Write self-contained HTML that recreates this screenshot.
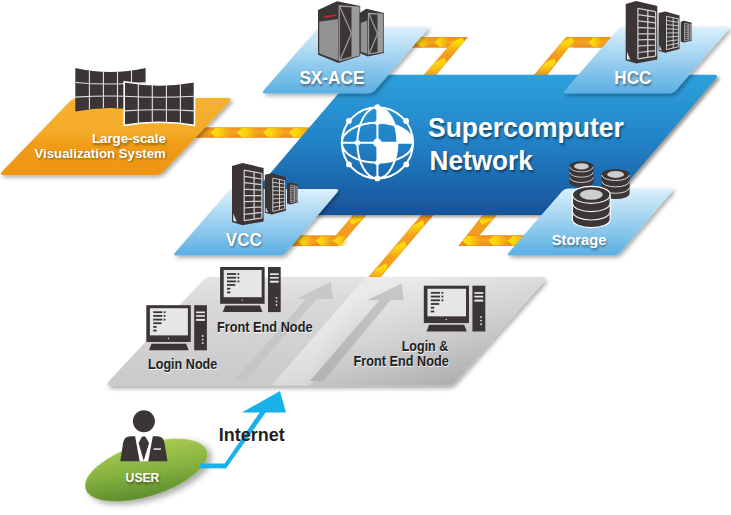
<!DOCTYPE html>
<html><head><meta charset="utf-8">
<style>
html,body{margin:0;padding:0;background:#fff;}
body{width:731px;height:515px;overflow:hidden;}
svg{display:block;}
text{font-family:"Liberation Sans",sans-serif;font-weight:bold;}
</style></head>
<body>
<svg width="731" height="515" viewBox="0 0 731 515">
<defs>
  <linearGradient id="gBlue" x1="0" y1="0" x2="0" y2="1">
    <stop offset="0" stop-color="#2da1dc"/>
    <stop offset="0.45" stop-color="#2384c8"/>
    <stop offset="1" stop-color="#18539a"/>
  </linearGradient>
  <linearGradient id="gLight" x1="0" y1="0" x2="0" y2="1">
    <stop offset="0" stop-color="#dcf0fb"/>
    <stop offset="1" stop-color="#5aafe3"/>
  </linearGradient>
  <linearGradient id="gOrange" x1="0" y1="0" x2="0" y2="1">
    <stop offset="0" stop-color="#f6b12f"/>
    <stop offset="0.45" stop-color="#f5ab28"/>
    <stop offset="0.6" stop-color="#f09c16"/>
    <stop offset="1" stop-color="#ed9512"/>
  </linearGradient>
  <linearGradient id="gGrayL" x1="0" y1="0" x2="0" y2="1">
    <stop offset="0" stop-color="#e4e4e4"/>
    <stop offset="0.25" stop-color="#d8d8d8"/>
    <stop offset="1" stop-color="#cacaca"/>
  </linearGradient>
  <linearGradient id="gGrayR" gradientUnits="userSpaceOnUse" x1="420" y1="277" x2="450" y2="388">
    <stop offset="0" stop-color="#eaeaea"/>
    <stop offset="0.5" stop-color="#d0d0d0"/>
    <stop offset="1" stop-color="#adadad"/>
  </linearGradient>
  <linearGradient id="gHi" gradientUnits="userSpaceOnUse" x1="320" y1="330" x2="352" y2="338">
    <stop offset="0" stop-color="#fff" stop-opacity="0.3"/>
    <stop offset="1" stop-color="#fff" stop-opacity="0"/>
  </linearGradient>
  <linearGradient id="gArrow2" gradientUnits="userSpaceOnUse" x1="400" y1="285" x2="315" y2="380">
    <stop offset="0" stop-color="#c8c8c8"/>
    <stop offset="1" stop-color="#b2b2b2"/>
  </linearGradient>
  <linearGradient id="gGreen" x1="0.7" y1="0" x2="0.3" y2="1">
    <stop offset="0" stop-color="#aacb52"/>
    <stop offset="0.5" stop-color="#86b240"/>
    <stop offset="1" stop-color="#5a8b2c"/>
  </linearGradient>
  <filter id="eshadow" x="-20%" y="-30%" width="140%" height="170%">
    <feDropShadow dx="3" dy="4" stdDeviation="3" flood-color="#000" flood-opacity="0.35"/>
  </filter>
  <linearGradient id="gBand" x1="0" y1="0" x2="0" y2="1">
    <stop offset="0" stop-color="#ef8f1d"/>
    <stop offset="0.5" stop-color="#f4a51f"/>
    <stop offset="1" stop-color="#ec891d"/>
  </linearGradient>
  <linearGradient id="gBand2" x1="0" y1="0" x2="0" y2="1">
    <stop offset="0" stop-color="#f4a51f"/>
    <stop offset="0.7" stop-color="#f29a1e"/>
    <stop offset="1" stop-color="#ec891d"/>
  </linearGradient>
  <linearGradient id="gBandV" x1="0" y1="0" x2="1" y2="0">
    <stop offset="0" stop-color="#ef8f1d"/>
    <stop offset="0.5" stop-color="#f4a51f"/>
    <stop offset="1" stop-color="#ec891d"/>
  </linearGradient>
  
  <linearGradient id="cL" x1="0" y1="0" x2="1" y2="0"><stop offset="0" stop-color="#fde20a"/><stop offset="0.4" stop-color="#fad20f"/><stop offset="1" stop-color="#f8c812" stop-opacity="0"/></linearGradient>
  <linearGradient id="cR" x1="1" y1="0" x2="0" y2="0"><stop offset="0" stop-color="#fde20a"/><stop offset="0.4" stop-color="#fad20f"/><stop offset="1" stop-color="#f8c812" stop-opacity="0"/></linearGradient>
  <linearGradient id="cU" x1="0" y1="0" x2="0" y2="1"><stop offset="0" stop-color="#fde20a"/><stop offset="0.4" stop-color="#fad20f"/><stop offset="1" stop-color="#f8c812" stop-opacity="0"/></linearGradient>
  <linearGradient id="cD" x1="0" y1="1" x2="0" y2="0"><stop offset="0" stop-color="#fde20a"/><stop offset="0.4" stop-color="#fad20f"/><stop offset="1" stop-color="#f8c812" stop-opacity="0"/></linearGradient>

  <filter id="pshadow" x="-10%" y="-10%" width="130%" height="140%">
    <feDropShadow dx="1.5" dy="3" stdDeviation="2.2" flood-color="#000" flood-opacity="0.32"/>
  </filter>
  <filter id="bshadow" x="-10%" y="-10%" width="130%" height="140%">
    <feDropShadow dx="2.5" dy="2" stdDeviation="1.8" flood-color="#2a1a10" flood-opacity="0.45"/>
  </filter>
  <filter id="shadow" x="-10%" y="-10%" width="130%" height="140%">
    <feDropShadow dx="2" dy="2" stdDeviation="2" flood-color="#000" flood-opacity="0.35"/>
  </filter>
  <filter id="blur1" x="-10%" y="-30%" width="120%" height="160%"><feGaussianBlur stdDeviation="0.9"/></filter>
  <filter id="blur07" x="-10%" y="-30%" width="120%" height="160%"><feGaussianBlur stdDeviation="0.7"/></filter>
  <g id="pc">
<rect x="0" y="0" width="44.5" height="36.8" fill="#3b3536"/>
<rect x="3.6" y="3" width="38" height="27.2" fill="#e6e6e6"/>
<g fill="#3b3536">
<rect x="6.9" y="6.1" width="9.1" height="1.8"/><rect x="17.4" y="6.1" width="1.8" height="1.8"/>
<rect x="6.9" y="9.8" width="9.1" height="1.8"/><rect x="17.4" y="9.8" width="1.8" height="1.8"/>
<rect x="6.9" y="13.5" width="9.1" height="1.8"/><rect x="17.4" y="13.5" width="1.8" height="1.8"/>
<rect x="6.9" y="17.1" width="8.3" height="1.8"/>
<rect x="6.9" y="20.8" width="3.4" height="1.8"/>
<rect x="6.9" y="24.5" width="3.4" height="1.8"/>
<polygon points="5.2,38.5 39.8,38.5 42.4,45.1 2.7,45.1"/>
<rect x="47.9" y="0" width="12.7" height="45.1"/>
</g>
<circle cx="22.1" cy="33.2" r="0.6" fill="#fff"/>
<g fill="#e6e6e6">
<rect x="49.8" y="6.3" width="8.8" height="1.7"/>
<rect x="49.8" y="9.9" width="8.8" height="1.7"/>
<rect x="49.8" y="13.7" width="8.8" height="2"/>
<circle cx="56.4" cy="30.8" r="0.9"/><circle cx="56.4" cy="34.4" r="0.9"/><circle cx="56.4" cy="38" r="0.9"/>
</g>
</g>
  <g id="racks">
  <polygon points="232,165.9 242.5,162.9 263.6,167.9 263.6,221.4 242.5,225.3 232,222" fill="#3b3536"/>
<path d="M244.2 170.1L244.2 220.7M254.1 172L254.1 219.1M261.9 173.5L261.9 217.9M244.2 170.1L261.9 173.5M244.2 176.4L261.9 179M244.2 182.7L261.9 184.6M244.2 189.1L261.9 190.1M244.2 195.4L261.9 195.7M244.2 201.7L261.9 201.2M244.2 208L261.9 206.8M244.2 214.3L261.9 212.4M244.2 220.7L261.9 217.9" stroke="#d0d0d0" stroke-width="1.25" fill="none"/>
<polygon points="233.3,213.6 233.3,221 236.7,221.5" fill="#e8e8e8"/>
<polygon points="264.9,174.8 271.7,173.3 285.8,177.2 285.8,210.7 271.7,214.6 264.9,212.7" fill="#3b3536"/>
<path d="M272.8 178.1L272.8 211.4M279.5 179.5L279.5 209.9M284.7 180.6L284.7 208.6M272.8 178.1L284.7 180.6M272.8 182.3L284.7 184.1M272.8 186.4L284.7 187.6M272.8 190.6L284.7 191.1M272.8 194.8L284.7 194.6M272.8 198.9L284.7 198.1M272.8 203.1L284.7 201.6M272.8 207.3L284.7 205.1M272.8 211.4L284.7 208.6" stroke="#d0d0d0" stroke-width="0.95" fill="none"/>
<polygon points="265.7,207 265.7,211.7 268,212.2" fill="#e8e8e8"/>
<polygon points="287,183.5 290.2,182.6 297.9,184.5 297.9,202.5 290.2,204.4 287,203.4" fill="#3b3536"/>
<path d="M290.8 185.1L290.8 202.7M294.4 185.8L294.4 202M297.3 186.4L297.3 201.4M290.8 185.1L297.3 186.4M290.8 187.3L297.3 188.2M290.8 189.5L297.3 190.1M290.8 191.7L297.3 192M290.8 193.9L297.3 193.9M290.8 196.1L297.3 195.7M290.8 198.3L297.3 197.6M290.8 200.5L297.3 199.5M290.8 202.7L297.3 201.4" stroke="#d0d0d0" stroke-width="0.6" fill="none"/>
  </g>
</defs>

<!-- ===== orange connectors ===== -->
<rect x="190" y="127.3" width="125" height="10.5" fill="url(#gBand)"/>
<polygon points="210.5,132.6 215.5,127.9 231.5,127.9 231.5,137.2 215.5,137.2" fill="url(#cL)"/>
<polygon points="236.9,132.6 241.9,127.9 257.9,127.9 257.9,137.2 241.9,137.2" fill="url(#cL)"/>
<polygon points="263.2,132.6 268.2,127.9 284.2,127.9 284.2,137.2 268.2,137.2" fill="url(#cL)"/>
<polygon points="288.8,132.6 293.8,127.9 309.8,127.9 309.8,137.2 293.8,137.2" fill="url(#cL)"/>
<polygon points="400,37 468,37 435.5,76 422.7,76 447.5,47.5 400,47.5" fill="url(#gBandV)"/>
<rect x="400" y="37" width="54" height="10.5" fill="url(#gBand)"/>
<polygon points="416.4,42.2 421.4,37.6 429.4,37.6 429.4,46.9 421.4,46.9" fill="url(#cL)"/>
<polygon points="435,42.2 440,37.6 448,37.6 448,46.9 440,46.9" fill="url(#cL)"/>
<polygon points="462.2,37.6 464.2,41.6 452.9,54.6 442,54.6 453.3,41.6" fill="url(#cU)"/>
<polygon points="444.3,58.2 446.2,62.2 434.9,75.2 424.1,75.2 435.4,62.2" fill="url(#cU)"/>
<polygon points="566,37 625,37 625,47.5 569,47.5 546.5,76 533,76" fill="url(#gBandV)"/>
<rect x="574" y="37" width="51" height="10.5" fill="url(#gBand)"/>
<polygon points="588.5,42.2 593.5,37.6 602.5,37.6 602.5,46.9 593.5,46.9" fill="url(#cL)"/>
<polygon points="607,42.2 612,37.6 621,37.6 621,46.9 612,46.9" fill="url(#cL)"/>
<polygon points="571.8,37.6 573.9,41.6 562.9,54.6 551.9,54.6 562.9,41.6" fill="url(#cU)"/>
<polygon points="554,58.6 556.1,62.6 545.1,75.6 534,75.6 545.1,62.6" fill="url(#cU)"/>
<polygon points="285,235.6 335.6,235.6 356.5,211 369.8,211 340,246.1 285,246.1" fill="url(#gBand2)"/>
<rect x="285" y="235.6" width="50.6" height="10.5" fill="url(#gBand)"/>
<polygon points="298,240.8 303,236.2 313,236.2 313,245.5 303,245.5" fill="url(#cL)"/>
<polygon points="316,240.8 321,236.2 331,236.2 331,245.5 321,245.5" fill="url(#cL)"/>
<polygon points="333.5,240.8 338.5,236.2 348.5,236.2 348.5,245.5 338.5,245.5" fill="url(#cL)"/>
<polygon points="351.6,224.5 360.6,220.5 366.6,213.5 355.4,213.5 349.4,220.5" fill="url(#cD)"/>
<polygon points="458.2,246 485.8,211 500.3,211 479.5,235.4 530,235.4 530,246" fill="url(#gBand2)"/>
<rect x="472" y="235.4" width="58" height="10.6" fill="url(#gBand)"/>
<polygon points="462.5,240.7 467.5,236 481.5,236 481.5,245.4 467.5,245.4" fill="url(#cL)"/>
<polygon points="488.3,240.7 493.3,236 507.3,236 507.3,245.4 493.3,245.4" fill="url(#cL)"/>
<polygon points="508,240.7 513,236 527,236 527,245.4 513,245.4" fill="url(#cL)"/>
<polygon points="481.8,224.5 490.9,220.5 496.8,213.5 485.2,213.5 479.4,220.5" fill="url(#cD)"/>
<polygon points="424.6,211 437,211 374,285 361.6,285" fill="url(#gBandV)"/>
<polygon points="423,220.2 424,225.2 413.8,237.2 403.2,237.2 413.4,225.2" fill="url(#cU)"/>
<polygon points="405,241.3 406,246.3 395.8,258.3 385.3,258.3 395.5,246.3" fill="url(#cU)"/>
<polygon points="386.4,263.2 387.4,268.2 377.2,280.2 366.6,280.2 376.9,268.2" fill="url(#cU)"/>

<path d="M350.7 79Q354.3 74.8 359.8 74.8L713.8 74.8Q719.3 74.8 715.7 79L603.6 210.7Q600 214.9 594.5 214.9L240.2 214.9Q234.7 214.9 238.3 210.7Z" fill="url(#gBlue)" filter="url(#bshadow)"/>
<path d="M69.2 102Q73 98 78.5 98L227.5 98Q233 98 229.2 102L163.8 171.3Q160 175.3 154.5 175.3L4 175.3Q-1.5 175.3 2.3 171.3Z" fill="url(#gOrange)" filter="url(#shadow)"/>
<path d="M316 30.4Q319 27 323.5 27L425 27Q429.5 27 426.6 30.4L375.4 90Q372.5 93.4 368 93.4L265.5 93.4Q261 93.4 264 90Z" fill="url(#gLight)" filter="url(#shadow)"/>
<path d="M617 30.4Q620 27 624.5 27L726 27Q730.5 27 727.6 30.4L676.4 90Q673.5 93.4 669 93.4L566.5 93.4Q562 93.4 565 90Z" fill="url(#gLight)" filter="url(#shadow)"/>
<path d="M227.5 192.4Q230.5 189 235 189L335.5 189Q340 189 337.1 192.4L286.4 252.2Q283.5 255.6 279 255.6L176.8 255.6Q172.3 255.6 175.3 252.2Z" fill="url(#gLight)" filter="url(#shadow)"/>
<path d="M561.5 191.9Q564.5 188.5 569 188.5L670 188.5Q674.5 188.5 671.6 191.9L620.4 252.2Q617.5 255.6 613 255.6L510.5 255.6Q506 255.6 509 252.2Z" fill="url(#gLight)" filter="url(#shadow)"/>
<path d="M201.9 281.4Q206 277 212 277L542 277Q548 277 544 281.5L456 381Q452 385.5 446 385.5L111 385.5Q105 385.5 109.1 381.1Z" fill="url(#gGrayL)" filter="url(#pshadow)"/>
<clipPath id="platClip"><path d="M201.9 281.4Q206 277 212 277L542 277Q548 277 544 281.5L456 381Q452 385.5 446 385.5L111 385.5Q105 385.5 109.1 381.1Z"/></clipPath>
<g clip-path="url(#platClip)">
  <polygon points="366,277 560,277 560,390 272,390 272,385" fill="url(#gGrayR)"/>
  <polygon points="366,277 400,277 306,390 272,390 272,385" fill="url(#gHi)"/>
  <polygon points="233.9,380 305.9,299.1 296.5,299.1 330.5,281.7 333.4,299.1 316.6,299.1 246.2,380" fill="#c4c4c4" fill-opacity="0.85"/>
  <polygon points="310,381.1 379.3,300.3 367,300.3 401.7,283.5 403.9,300.3 390.5,300.3 323.5,381.1" fill="url(#gArrow2)"/>
</g>
<!-- globe -->
<g fill="none" stroke="#fff" stroke-width="2">
<circle cx="377.4" cy="142.8" r="35.6"/>
<ellipse cx="377.4" cy="142.8" rx="20" ry="35.6"/>
<ellipse cx="377.4" cy="142.8" rx="35.6" ry="20"/>
<path d="M377.4 107.2V178.4M341.8 142.8H413"/>
</g>
<g fill="#fff">
<path d="M377.4 107.2A20 35.6 0 0 1 394.84 125.36A35.6 20 0 0 0 377.4 122.8Z"/>
<path d="M394.84 125.36A35.6 20 0 0 1 413 142.8H397.4A20 35.6 0 0 0 394.84 125.36Z"/>
<path d="M377.4 142.8H397.4A20 35.6 0 0 1 394.84 160.24A35.6 20 0 0 1 377.4 162.8Z"/>
<circle cx="377.4" cy="107.2" r="2.9"/>
<circle cx="377.4" cy="178.4" r="2.9"/>
<circle cx="377.4" cy="142.8" r="4.3"/>
<circle cx="357.4" cy="142.8" r="2.8"/>
<circle cx="348.9" cy="121" r="2.9"/>
<circle cx="406.1" cy="121" r="2.9"/>
<circle cx="348.9" cy="164.4" r="2.9"/>
<circle cx="406.3" cy="164.4" r="2.9"/>
<circle cx="377.4" cy="122.8" r="2.5"/>
<circle cx="377.4" cy="162.8" r="2.5"/>
</g>

<!-- icons -->
<use href="#racks"/>
<use href="#racks" transform="translate(393.7,-161.8)"/>
<polygon points="318,9.9 337.1,1.3 360.2,5.9 360.2,56.1 338.4,63.1 318,54.7" fill="#3b3536"/>
<polygon points="319.2,21.8 338,19.1 338,60.6 319.2,53.4" fill="#939393"/>
<line x1="325.2" y1="16.9" x2="335.8" y2="15.2" stroke="#d42030" stroke-width="1.6" stroke-linecap="round"/>
<polygon points="339.2,6 359,7.1 359,54.9 339.2,60.6" fill="none" stroke="#9a9a9a" stroke-width="1.3"/>
<polygon points="351.5,6.7 359,7.1 359,54.9 351.5,57.2" fill="#9a9a9a"/>
<polyline points="339.7,6.5 351.5,33.3 340,60.1" fill="none" stroke="#9a9a9a" stroke-width="1.3"/>
<polygon points="359.6,12.9 366.4,8.8 384,12.9 384,53 367.7,56.4 359.6,53" fill="#3b3536"/>
<polygon points="360.8,23.1 367.3,20.4 367.3,53.9 360.8,51.7" fill="#939393"/>
<polygon points="368.5,13.5 382.8,14.1 382.8,51.8 368.5,53.9" fill="none" stroke="#9a9a9a" stroke-width="1.3"/>
<polygon points="377.5,13.9 382.8,14.1 382.8,51.8 377.5,52.6" fill="#9a9a9a"/>
<polyline points="369,14 377.5,33.7 369.3,53.4" fill="none" stroke="#9a9a9a" stroke-width="1.3"/>
<path d="M569.4 166.3L569.4 182.2A12 5 0 0 0 593.4 182.2L593.4 166.3A12 5 0 0 0 569.4 166.3Z" fill="#3b3536"/>
<path d="M569.7 166.9A11.7 5 0 0 0 593.1 166.9" fill="none" stroke="#e6e6e6" stroke-width="0.8"/>
<path d="M569.7 172.2A11.7 5 0 0 0 593.1 172.2" fill="none" stroke="#e6e6e6" stroke-width="0.8"/>
<path d="M569.7 177.5A11.7 5 0 0 0 593.1 177.5" fill="none" stroke="#e6e6e6" stroke-width="0.8"/>
<ellipse cx="581.4" cy="166.3" rx="7.3" ry="3.1" fill="#cdcdcd"/>
<path d="M601.6 174.4L601.6 193.6A14 5.5 0 0 0 629.6 193.6L629.6 174.4A14 5.5 0 0 0 601.6 174.4Z" fill="#3b3536"/>
<path d="M601.9 175A13.7 5.5 0 0 0 629.3 175" fill="none" stroke="#e6e6e6" stroke-width="0.9"/>
<path d="M601.9 181.4A13.7 5.5 0 0 0 629.3 181.4" fill="none" stroke="#e6e6e6" stroke-width="0.9"/>
<path d="M601.9 187.8A13.7 5.5 0 0 0 629.3 187.8" fill="none" stroke="#e6e6e6" stroke-width="0.9"/>
<ellipse cx="615.6" cy="174.4" rx="8.5" ry="3.5" fill="#cdcdcd"/>
<path d="M572.4 194.6L572.4 219.5A18.9 8.2 0 0 0 610.2 219.5L610.2 194.6A18.9 8.2 0 0 0 572.4 194.6Z" fill="#3b3536" stroke="#fff" stroke-width="1.2"/>
<path d="M572.7 195.2A18.6 8.2 0 0 0 609.9 195.2" fill="none" stroke="#e6e6e6" stroke-width="1.2"/>
<path d="M572.7 203.5A18.6 8.2 0 0 0 609.9 203.5" fill="none" stroke="#e6e6e6" stroke-width="1.2"/>
<path d="M572.7 211.8A18.6 8.2 0 0 0 609.9 211.8" fill="none" stroke="#e6e6e6" stroke-width="1.2"/>
<ellipse cx="591.3" cy="194.6" rx="11.5" ry="5.2" fill="#cdcdcd"/>
<path d="M75.3 68Q110.4 76.2 145.6 68L145.6 111.6Q110.4 104.4 75.3 111.6Z" fill="#3b3536"/>
<path d="M89.4 70.6L89.4 109.3M103.4 71.9L103.4 108.1M117.5 71.9L117.5 108.1M131.5 70.6L131.5 109.3M75.3 82.5Q110.4 85.6 145.6 82.5M75.3 97.1Q110.4 95 145.6 97.1" stroke="#e4e4e4" stroke-width="1.1" fill="none"/>
<path d="M124.2 81.8Q159.3 88 194.5 81.8L194.5 125.4Q159.3 119 124.2 125.4Z" fill="#3b3536" stroke="#fff" stroke-width="1.6"/>
<path d="M138.3 83.8L138.3 123.4M152.3 84.8L152.3 122.3M166.4 84.8L166.4 122.3M180.4 83.8L180.4 123.4M124.2 96.3Q159.3 98.3 194.5 96.3M124.2 110.9Q159.3 108.7 194.5 110.9" stroke="#e4e4e4" stroke-width="1.1" fill="none"/>
<use href="#pc" transform="translate(146.3,305.2)"/>
<use href="#pc" transform="translate(220.1,267)"/>
<use href="#pc" transform="translate(423.8,285.7) scale(1.015)"/>

<!-- ===== green user ellipse ===== -->
<ellipse cx="146.2" cy="470" rx="63.5" ry="26.3" transform="rotate(-17.4 146.2 470)" fill="url(#gGreen)" filter="url(#eshadow)"/>
<!-- person -->
<circle cx="143.9" cy="421.3" r="11" fill="#3b3536"/>
<polygon points="134.8,436.2 153.1,436.2 148.5,461.2 139.4,461.2" fill="#fff"/>
<g fill="#3b3536">
<path d="M120.3 461.2L123.2 442.3Q124.5 436.2 130.5 436.2L135.1 436.2L139.6 461.2Z"/>
<path d="M167.5 461.2L164.3 442.3Q163 436.2 157.5 436.2L152.8 436.2L148.3 461.2Z"/>
<polygon points="142.1,436.6 145.3,436.6 149.1,443.1 143.7,460.8 138.6,443.1"/>
</g>
<rect x="153.6" y="448.2" width="7.4" height="1.7" fill="#d8d8d8"/>

<!-- ===== internet arrow ===== -->
<g fill="#19b1ea">
  <rect x="200" y="463.5" width="26" height="4.8"/>
  <polygon points="221.5,468.3 226.2,468.3 266,412 260,412"/>
  <polygon points="241.8,412.6 280,391 286,412.4"/>
</g>

<!-- ===== texts ===== -->
<text x="429.2" y="138.6" font-size="28.4" textLength="195.8" lengthAdjust="spacingAndGlyphs" fill="#000" fill-opacity="0.5" filter="url(#blur1)">Supercomputer</text>
<text x="428" y="136.8" font-size="28.4" textLength="195.8" lengthAdjust="spacingAndGlyphs" fill="#fff">Supercomputer</text>
<text x="430.7" y="171.6" font-size="28.4" textLength="103.2" lengthAdjust="spacingAndGlyphs" fill="#000" fill-opacity="0.5" filter="url(#blur1)">Network</text>
<text x="429.5" y="169.8" font-size="28.4" textLength="103.2" lengthAdjust="spacingAndGlyphs" fill="#fff">Network</text>
<text x="300.4" y="85.7" font-size="18.1" textLength="65" lengthAdjust="spacingAndGlyphs" fill="#000" fill-opacity="0.45" filter="url(#blur1)">SX-ACE</text>
<text x="299.4" y="84.2" font-size="18.1" textLength="65" lengthAdjust="spacingAndGlyphs" fill="#fff">SX-ACE</text>
<text x="615.3" y="85.7" font-size="18.1" textLength="37" lengthAdjust="spacingAndGlyphs" fill="#000" fill-opacity="0.45" filter="url(#blur1)">HCC</text>
<text x="614.3" y="84.2" font-size="18.1" textLength="37" lengthAdjust="spacingAndGlyphs" fill="#fff">HCC</text>
<text x="226.8" y="247.1" font-size="18.1" textLength="36.1" lengthAdjust="spacingAndGlyphs" fill="#000" fill-opacity="0.45" filter="url(#blur1)">VCC</text>
<text x="225.8" y="245.6" font-size="18.1" textLength="36.1" lengthAdjust="spacingAndGlyphs" fill="#fff">VCC</text>
<text x="552.7" y="246.5" font-size="15" textLength="54.7" lengthAdjust="spacingAndGlyphs" fill="#000" fill-opacity="0.45" filter="url(#blur1)">Storage</text>
<text x="551.7" y="245" font-size="15" textLength="54.7" lengthAdjust="spacingAndGlyphs" fill="#fff">Storage</text>
<text x="92.9" y="144.8" font-size="13.2" textLength="73.9" lengthAdjust="spacingAndGlyphs" fill="#000" fill-opacity="0.45" filter="url(#blur1)">Large-scale</text>
<text x="91.9" y="143.3" font-size="13.2" textLength="73.9" lengthAdjust="spacingAndGlyphs" fill="#fff">Large-scale</text>
<text x="35.5" y="159.4" font-size="13.2" textLength="131.3" lengthAdjust="spacingAndGlyphs" fill="#000" fill-opacity="0.45" filter="url(#blur1)">Visualization System</text>
<text x="34.5" y="157.9" font-size="13.2" textLength="131.3" lengthAdjust="spacingAndGlyphs" fill="#fff">Visualization System</text>
<text x="126.6" y="483.8" font-size="13" textLength="33.8" lengthAdjust="spacingAndGlyphs" fill="#000" fill-opacity="0.45" filter="url(#blur1)">USER</text>
<text x="125.6" y="482.3" font-size="13" textLength="33.8" lengthAdjust="spacingAndGlyphs" fill="#fff">USER</text>
<text x="148.5" y="370.1" font-size="13.9" textLength="69.3" lengthAdjust="spacingAndGlyphs" fill="#fff" fill-opacity="0.9" filter="url(#blur07)">Login Node</text>
<text x="148" y="369.1" font-size="13.9" textLength="69.3" lengthAdjust="spacingAndGlyphs" fill="#231f20">Login Node</text>
<text x="217.5" y="332.5" font-size="13.9" textLength="95.5" lengthAdjust="spacingAndGlyphs" fill="#fff" fill-opacity="0.9" filter="url(#blur07)">Front End Node</text>
<text x="217" y="331.5" font-size="13.9" textLength="95.5" lengthAdjust="spacingAndGlyphs" fill="#231f20">Front End Node</text>
<text x="402.2" y="352.2" font-size="14" textLength="46.6" lengthAdjust="spacingAndGlyphs" fill="#fff" fill-opacity="0.9" filter="url(#blur07)">Login &amp;</text>
<text x="401.7" y="351.2" font-size="14" textLength="46.6" lengthAdjust="spacingAndGlyphs" fill="#231f20">Login &amp;</text>
<text x="354.1" y="366.8" font-size="14" textLength="95.2" lengthAdjust="spacingAndGlyphs" fill="#fff" fill-opacity="0.9" filter="url(#blur07)">Front End Node</text>
<text x="353.6" y="365.8" font-size="14" textLength="95.2" lengthAdjust="spacingAndGlyphs" fill="#231f20">Front End Node</text>
<text x="218.7" y="440.7" font-size="19" fill="#231f20" textLength="66" lengthAdjust="spacingAndGlyphs">Internet</text>
</svg>
</body></html>
